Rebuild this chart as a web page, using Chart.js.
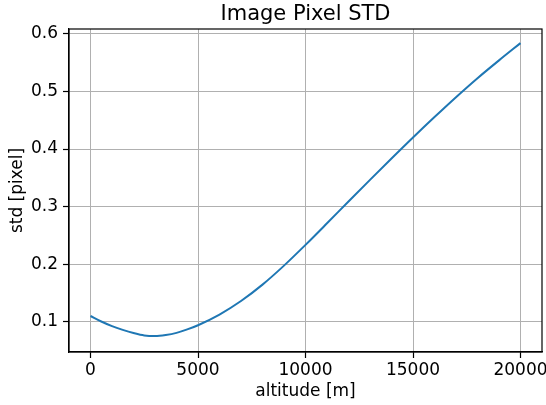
<!DOCTYPE html>
<html>
<head>
<meta charset="utf-8">
<script src="https://cdn.jsdelivr.net/npm/chart.js@4/dist/chart.umd.min.js"></script>
<style>
  html, body { margin: 0; padding: 0; background: #fff; }
  #wrap { width: 546px; height: 405px; }
</style>
</head>
<body>
<div id="wrap"><canvas id="c" width="546" height="405"></canvas></div>
<script>
const altitudes = [0, 500, 1000, 1500, 2000, 2500, 3000, 3500, 4000, 4500, 5000, 6000, 7000, 8000, 9000, 10000, 11000, 12000, 13000, 14000, 15000, 16000, 17000, 18000, 19000, 20000];
const stdValues = [0.110, 0.1005, 0.0925, 0.0860, 0.0805, 0.0763, 0.0752, 0.0770, 0.0807, 0.0867, 0.094, 0.1125, 0.136, 0.1645, 0.1975, 0.2335, 0.271, 0.309, 0.3465, 0.3835, 0.420, 0.4555, 0.490, 0.523, 0.554, 0.584];
const xTicks = [0, 5000, 10000, 15000, 20000];
const xTickLabels = ['0', '5000', '10000', '15000', '20000'];
const yTicks = [0.1, 0.2, 0.3, 0.4, 0.5, 0.6];
const yTickLabels = ['0.1', '0.2', '0.3', '0.4', '0.5', '0.6'];

const FONT = 'DejaVu Sans';
const TICK_SIZE = 17;

const frame = {
  id: 'frame',
  afterDatasetsDraw(chart) {
    const a = chart.chartArea, ctx = chart.ctx;
    ctx.save();
    ctx.strokeStyle = '#000';
    ctx.lineWidth = 1.2;
    ctx.strokeRect(a.left, a.top, a.right - a.left, a.bottom - a.top);
    ctx.restore();
  }
};

new Chart(document.getElementById('c'), {
  type: 'line',
  data: {
    datasets: [{
      data: altitudes.map((x, i) => ({ x: x, y: stdValues[i] })),
      borderColor: '#1f77b4',
      borderWidth: 2,
      pointRadius: 0,
      fill: false,
      cubicInterpolationMode: 'monotone'
    }]
  },
  options: {
    responsive: false,
    animation: false,
    layout: { padding: { left: 0, right: 4, top: 0, bottom: 0 } },
    plugins: {
      legend: { display: false },
      tooltip: { enabled: false },
      title: {
        display: true,
        fullSize: false,
        text: 'Image Pixel STD',
        color: '#000',
        font: { family: FONT, size: 21, weight: 'normal' },
        padding: { top: 2, bottom: 1.8 }
      }
    },
    scales: {
      x: {
        type: 'linear',
        min: -1000,
        max: 21000,
        afterBuildTicks(s) { s.ticks = xTicks.map(v => ({ value: v })); },
        afterFit(s) { s.height = 53; s.paddingLeft = 0; s.paddingRight = 0; },
        ticks: {
          color: '#000',
          font: { family: FONT, size: TICK_SIZE },
          padding: 2,
          maxRotation: 0,
          autoSkip: false,
          callback(v) { const i = xTicks.indexOf(v); return i >= 0 ? xTickLabels[i] : ''; }
        },
        grid: { color: '#b0b0b0', lineWidth: 1, tickColor: '#000', tickLength: 6, tickWidth: 1.2 },
        border: { display: true, color: '#000', width: 1.2 },
        title: {
          display: true,
          text: 'altitude [m]',
          color: '#000',
          font: { family: FONT, size: TICK_SIZE },
          padding: { top: 0, bottom: 3 }
        }
      },
      y: {
        type: 'linear',
        min: 0.0475,
        max: 0.6085,
        afterBuildTicks(s) { s.ticks = yTicks.map(v => ({ value: v })); },
        afterFit(s) { s.width = 69; s.paddingTop = 0; s.paddingBottom = 0; },
        ticks: {
          color: '#000',
          font: { family: FONT, size: TICK_SIZE },
          padding: 5,
          autoSkip: false,
          callback(v) { const i = yTicks.findIndex(t => Math.abs(t - v) < 1e-9); return i >= 0 ? yTickLabels[i] : ''; }
        },
        grid: { color: '#b0b0b0', lineWidth: 1, tickColor: '#000', tickLength: 6, tickWidth: 1.2 },
        border: { display: true, color: '#000', width: 1.2 },
        title: {
          display: true,
          text: 'std [pixel]',
          color: '#000',
          font: { family: FONT, size: TICK_SIZE },
          padding: { top: 7, bottom: 0 }
        }
      }
    }
  },
  plugins: [frame]
});
</script>
</body>
</html>
